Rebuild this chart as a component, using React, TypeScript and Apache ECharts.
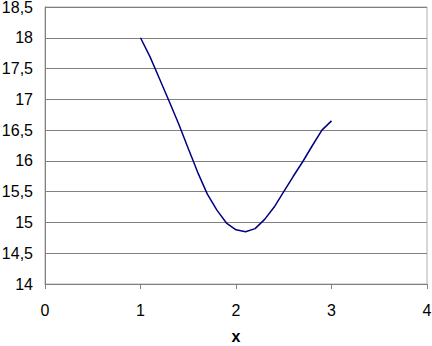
import React, { useEffect, useRef } from "react";
import * as echarts from "echarts";

const xValues = [1.0, 1.1, 1.2, 1.3, 1.4, 1.5, 1.6, 1.7, 1.8, 1.9, 2.0, 2.1, 2.2, 2.3, 2.4, 2.5, 2.6, 2.7, 2.8, 2.9, 3.0];
const yValues = [18.0, 17.69, 17.33, 16.97, 16.6, 16.2, 15.81, 15.46, 15.2, 14.99, 14.88, 14.85, 14.9, 15.05, 15.25, 15.5, 15.75, 15.99, 16.25, 16.5, 16.65];
const xAxisName = "x";

export default function App() {
  const ref = useRef<HTMLDivElement>(null);
  useEffect(() => {
    const chart = echarts.init(ref.current!, null, { renderer: "svg" });
    const font = "'Liberation Sans', Arial, sans-serif";
    chart.setOption({
      animation: false,
      backgroundColor: "#ffffff",
      grid: {
        left: 45,
        right: 5,
        top: 7,
        bottom: 62,
        show: true,
        borderColor: "#b0b0b0",
        borderWidth: 1,
        outerBoundsMode: "none",
        containLabel: false,
      },
      xAxis: {
        type: "value",
        min: 0,
        max: 4,
        interval: 1,
        name: xAxisName,
        nameLocation: "middle",
        nameGap: 47,
        nameTextStyle: { fontFamily: font, fontSize: 16, fontWeight: "bold", color: "#000", lineHeight: 10 },
        axisLine: { show: true, onZero: false, lineStyle: { color: "#808080", width: 1 } },
        axisTick: { show: true, length: 5, lineStyle: { color: "#808080" } },
        axisLabel: { fontFamily: font, fontSize: 16, color: "#000", margin: 18 },
        splitLine: { show: false },
      },
      yAxis: {
        type: "value",
        min: 14,
        max: 18.5,
        interval: 0.5,
        axisLine: { show: true, lineStyle: { color: "#808080", width: 1 } },
        axisTick: { show: false },
        axisLabel: {
          fontFamily: font,
          fontSize: 16,
          color: "#000",
          margin: 12,
          formatter: (v: number) => String(v).replace(".", ","),
        },
        splitLine: { show: true, lineStyle: { color: "#808080", width: 1 } },
      },
      series: [
        {
          type: "line",
          data: xValues.map((x, i) => [x, yValues[i]]),
          showSymbol: false,
          lineStyle: { color: "#000080", width: 1.5 },
        },
      ],
    });
    return () => chart.dispose();
  }, []);
  return <div ref={ref} style={{ width: 432, height: 346, position: "absolute", left: 0, top: 0 }} />;
}
